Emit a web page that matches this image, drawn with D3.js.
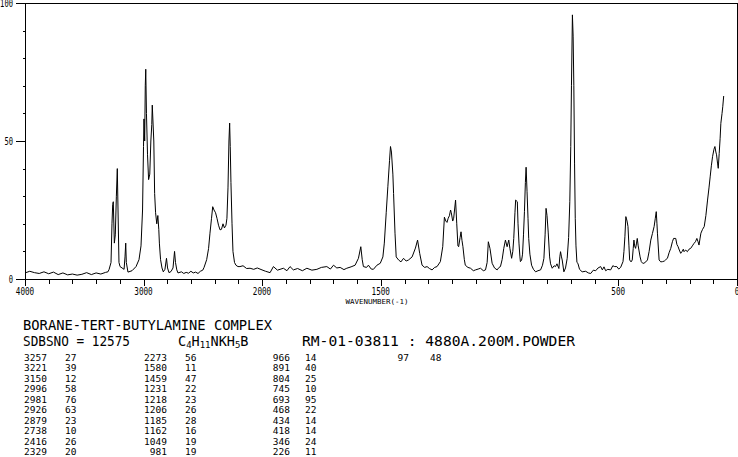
<!DOCTYPE html>
<html>
<head>
<meta charset="utf-8">
<script src="https://cdn.jsdelivr.net/npm/d3@7/dist/d3.min.js"></script>
<style>
  html, body { margin: 0; padding: 0; background: #fff; }
  svg { display: block; }
  text { font-family: "DejaVu Sans Mono", "Liberation Mono", monospace; fill: #000; }
</style>
</head>
<body>
<svg id="chart" width="738" height="457"></svg>
<script>
// ---- Spectrum (wavenumber cm-1, Raman intensity) ----
const wavenumbers = [
  4000,3960,3920,3880,3840,3800,3760,3720,3680,3640,3600,3560,3520,3480,3440,3400,3360,3320,3300,3290,
  3274,3266,3260,3255,3246,3238,3229,3221,3215,3207,3198,3181,3164,3156,3150,3145,3131,3097,3063,3038,
  3021,3008,3000,2996,2990,2985,2981,2975,2966,2957,2947,2938,2930,2926,2913,2906,2898,2888,2879,2871,
  2866,2856,2844,2833,2819,2806,2797,2785,2768,2751,2738,2730,2719,2709,2680,2660,2640,2620,2600,2580,
  2560,2540,2520,2500,2489,2467,2451,2439,2426,2416,2405,2392,2380,2367,2354,2342,2329,2317,2304,2296,
  2287,2279,2273,2268,2262,2253,2245,2232,2220,2203,2186,2160,2130,2101,2070,2040,2000,1985,1966,1952,
  1935,1910,1895,1882,1868,1850,1830,1811,1790,1769,1750,1727,1712,1699,1685,1671,1655,1643,1625,1608,
  1594,1584,1578,1573,1560,1552,1540,1531,1516,1502,1491,1485,1477,1470,1463,1459,1455,1449,1446,1440,
  1435,1425,1415,1404,1393,1383,1368,1354,1345,1336,1326,1315,1305,1295,1284,1273,1263,1249,1239,1232,
  1226,1221,1216,1211,1206,1203,1197,1193,1185,1180,1175,1172,1166,1162,1158,1154,1148,1144,1133,1122,
  1110,1101,1090,1080,1068,1059,1052,1047,1040,1031,1021,1010,1002,996,989,982,975,968,961,956,
  949,944,940,935,932,925,922,918,914,912,907,903,899,895,891,888,884,880,877,872,
  865,857,848,838,827,819,813,808,804,800,795,789,785,778,770,764,758,750,746,743,
  739,736,729,722,715,709,704,700,697,693,690,687,684,681,678,674,670,663,652,637,
  626,616,605,595,585,574,567,560,553,544,532,523,515,506,498,490,480,476,472,468,
  463,459,455,452,446,441,437,434,431,427,423,420,416,413,408,403,397,392,384,377,
  370,363,356,349,344,340,337,335,328,321,313,306,300,293,286,279,272,267,258,253,
  248,243,237,231,226,223,216,209,202,195,188,181,175,169,164,160,156,152,145,138,
  131,124,118,113,108,103,97,93,89,86,82,79,75,71,68,63,60,56
];
const intensities = [
  2.2,2.8,2.3,2.0,2.6,1.9,2.5,1.6,2.2,1.5,1.8,1.4,1.7,2.3,1.6,2.2,1.8,2.4,2.6,3.5,
  6,20,27,28,13,16,30,40,25,6,4.5,4,3.5,8,13,6,2.5,3,4.5,7,
  12,25,48,58,50,70,76,60,45,36,38,50,56,63,50,31,24,20,23,18,
  13,7,4,2.6,3.5,7.5,4,2.3,2.7,4,10,6,3.3,2.2,2.6,2.0,2.4,2.1,2.8,2.2,
  2.5,2.0,2.8,3.2,4.2,7,11,16.6,22,26.2,25,24,22,19.5,17.8,18,20,18.5,19.5,22,
  33,50,56.5,48,35,20,10,6,5,4.5,4.5,4.8,3.8,3.9,3.5,4.0,3.3,2.8,2.3,4.5,
  3.2,3.9,3.0,4.5,3.3,3.8,3.0,3.9,3.2,3.5,4.2,4.5,3.6,5,4.0,4.2,3.4,3.9,4.4,5,
  7.5,11.7,7,4.5,4.2,5,3.6,3.5,5,5.7,8,13,24,33.6,43,48,46,38,31,16.6,
  8,6.9,6.2,7.5,6.5,6.9,8,11.2,14.1,9.3,5,4.2,4.5,3.8,3.3,4.2,4.5,6.3,11.7,22.4,
  21,20.5,22,22.9,25,24,21,22,28.6,20,12,11.7,15,17.1,14,11.7,7,5,4.2,3.9,
  3.0,3.3,3.6,3.9,3.0,3.3,6,13.5,11,5.7,4,3.3,4.2,4.5,7,11.1,14.1,11.7,14.1,11,
  7.5,10,14.7,24,28.6,28,20,13,8,6.3,6.8,9,16,24.4,35,40.5,31.6,22,14.7,9,
  5,3.5,2.6,3,3.3,5,7.5,16,25.6,23,17,8,5.5,3.9,4.8,4.5,5.5,3.8,8,9.9,
  8,6.9,2.6,4,7.5,15,28,48,70,95.7,88,70,42,22,12,6,5.7,3.5,2.6,2.8,
  2.2,2.0,3.2,3.0,4,4.5,3.3,4.4,3.0,3.5,3.3,4.8,4.5,4.5,3.6,4.2,6.3,10,15.3,22.6,
  21,19,12,6.9,6.2,6.9,11,14.1,12,11.1,13,14.7,12,10.5,8,6.3,5.7,5.7,6.2,6.9,
  10,14.1,16.5,19,22,24.4,20,16.6,6.9,6.2,6.3,6.5,7,7.5,9.5,11.1,13.5,14.7,14.7,12.5,
  11.7,10.5,9.3,10,10.8,9.9,10.5,9.9,10.8,11.1,12,12.9,13.5,14.7,13.5,12.3,14.5,16.6,18,19,
  23,28.6,33,37,41,44.3,47,48,46,45,42,40.1,45.5,51,56.4,60,62.4,66.3
];

// ---- Axis ticks / labels ----
const xTickLabels = [4000, 3000, 2000, 1500, 500, 0];
const yTickLabels = [0, 50, 100];

// ---- Header text ----
const compoundName = "BORANE-TERT-BUTYLAMINE COMPLEX";
const sdbsNo = "SDBSNO = 12575";
const measurement = "RM-01-03811 : 4880A.200M.POWDER";
const xAxisTitle = "WAVENUMBER(-1)";

// ---- Peak table (wavenumber, intensity) ----
const peakWavenumbers = [3257,3221,3150,2996,2981,2926,2879,2738,2416,2329,
                         2273,1580,1459,1231,1218,1206,1185,1162,1049,981,
                         966,891,804,745,693,468,434,418,346,226,
                         97];
const peakIntensities = [27,39,12,58,76,63,23,10,26,20,
                         56,11,47,22,23,26,28,16,19,19,
                         14,40,25,10,95,22,14,14,24,11,
                         48];

const svg = d3.select("#chart");
svg.append("rect").attr("width", 738).attr("height", 457).attr("fill", "#fff");

const x = d3.scaleLinear().domain([4000, 2000, 0]).range([25, 262, 737]);
const y = d3.scaleLinear().domain([0, 100]).range([279, 3]);

const g = svg.append("g").attr("shape-rendering", "crispEdges");

// frame
g.append("line").attr("x1", 25).attr("x2", 737.5).attr("y1", 3.5).attr("y2", 3.5).attr("stroke", "#000");
g.append("line").attr("x1", 737.5).attr("x2", 737.5).attr("y1", 3.5).attr("y2", 279.5).attr("stroke", "#000");

// x axis (minor ticks: 200 above 2000, 100 below)
const xMinor = d3.range(4000, 2000, -200).concat(d3.range(2000, -1, -100));
const xAxis = d3.axisBottom(x).tickValues(xMinor).tickSize(4).tickFormat("");
const xa = svg.append("g").attr("transform", "translate(0,279.5)").call(xAxis);
xa.select(".domain").attr("d", "M25,0H737.5").attr("stroke", "#000");
xa.selectAll(".tick line").attr("stroke", "#000").attr("shape-rendering", "crispEdges")
  .attr("y2", d => xTickLabels.includes(d) ? 6 : 4);
xa.attr("shape-rendering", "crispEdges");

const xl = svg.append("g");
xl.selectAll("text").data(xTickLabels).join("text")
  .attr("x", d => x(d)).attr("y", 295)
  .attr("text-anchor", "middle")
  .attr("font-size", 10)
  .attr("textLength", d => String(d).length * 4.6)
  .attr("lengthAdjust", "spacingAndGlyphs")
  .text(d => d);

svg.append("text").attr("x", 377).attr("y", 303.5).attr("text-anchor", "middle")
  .attr("font-size", 7).attr("textLength", 63).attr("lengthAdjust", "spacingAndGlyphs")
  .text(xAxisTitle);

// y axis
const yMinor = d3.range(0, 101, 10);
const yAxis = d3.axisLeft(y).tickValues(yMinor).tickSize(3).tickFormat("");
const ya = svg.append("g").attr("transform", "translate(25.5,0)").call(yAxis);
ya.attr("shape-rendering", "crispEdges");
ya.select(".domain").attr("d", "M0,3.5V279.5").attr("stroke", "#000");
ya.selectAll(".tick line").attr("stroke", "#000").attr("x2", d => yTickLabels.includes(d) ? -10 : -3);

svg.append("g").selectAll("text").data(yTickLabels).join("text")
  .attr("x", 13).attr("y", d => y(d) + 3.5)
  .attr("text-anchor", "end").attr("font-size", 10)
  .attr("textLength", d => String(d).length * 4.3)
  .attr("lengthAdjust", "spacingAndGlyphs")
  .text(d => d);

// spectrum line
const pts = wavenumbers.map((w, i) => [w, intensities[i]]);
const line = d3.line().x(d => x(d[0])).y(d => y(d[1]));
svg.append("path").datum(pts)
  .attr("d", line).attr("fill", "none").attr("stroke", "#000").attr("stroke-width", 1)
  .attr("stroke-linejoin", "miter");

// header text
svg.append("text").attr("x", 23).attr("y", 330).attr("font-size", 13.5)
  .attr("textLength", 249).attr("lengthAdjust", "spacingAndGlyphs").text(compoundName);
svg.append("text").attr("x", 23).attr("y", 346).attr("font-size", 13.5)
  .attr("textLength", 107).attr("lengthAdjust", "spacingAndGlyphs").text(sdbsNo);

// formula C4H11NKH5B
const f = svg.append("text").attr("x", 178).attr("y", 346).attr("font-size", 13.5);
const parts = [["C",0],["4",1],["H",0],["11",1],["NKH",0],["5",1],["B",0]];
parts.forEach(([t, sub], i) => {
  const prevSub = i > 0 ? parts[i-1][1] : 0;
  f.append("tspan").attr("font-size", sub ? 9 : 13.5)
   .attr("dy", sub && !prevSub ? 2 : (!sub && prevSub ? -2 : 0)).text(t);
});

svg.append("text").attr("x", 302).attr("y", 346).attr("font-size", 13.5)
  .attr("textLength", 273).attr("lengthAdjust", "spacingAndGlyphs").text(measurement);

// peak table: 10 rows per column pair
const rowsPer = 10;
const colX = [47, 167, 290, 409];
const intX = [65, 185, 305, 430];
peakWavenumbers.forEach((w, i) => {
  const c = Math.floor(i / rowsPer), r = i % rowsPer;
  const yy = 361 + r * 10.45;
  svg.append("text").attr("x", colX[c]).attr("y", yy).attr("text-anchor", "end")
    .attr("font-size", 9.5).text(w);
  svg.append("text").attr("x", intX[c]).attr("y", yy)
    .attr("font-size", 9.5).text(peakIntensities[i]);
});
</script>
</body>
</html>
